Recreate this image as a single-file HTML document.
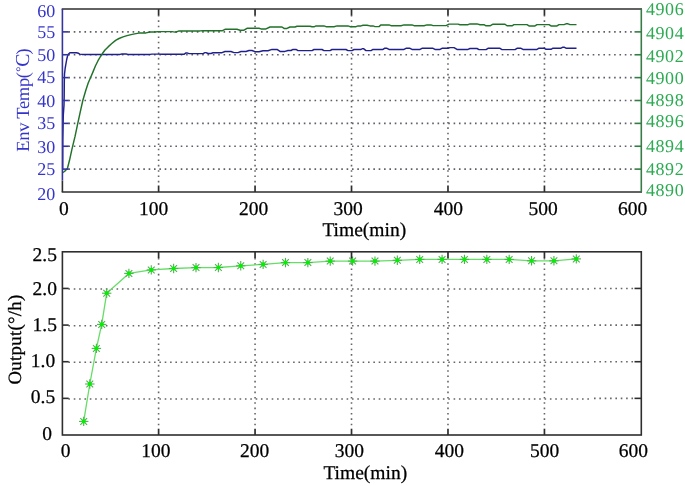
<!DOCTYPE html><html><head><meta charset="utf-8"><style>html,body{margin:0;padding:0;background:#fff;overflow:hidden}svg{display:block}text{font-family:"Liberation Serif","Times New Roman",serif;text-rendering:geometricPrecision}</style></head><body>
<svg width="685" height="486" viewBox="0 0 685 486">
<rect width="685" height="486" fill="#fff"/>
<line x1="158.60" y1="15.00" x2="158.60" y2="186.00" stroke="#666" stroke-width="1.6" stroke-dasharray="1.6 3.75"/>
<line x1="255.06" y1="15.00" x2="255.06" y2="186.00" stroke="#666" stroke-width="1.6" stroke-dasharray="1.6 3.75"/>
<line x1="351.52" y1="15.00" x2="351.52" y2="186.00" stroke="#666" stroke-width="1.6" stroke-dasharray="1.6 3.75"/>
<line x1="447.98" y1="15.00" x2="447.98" y2="186.00" stroke="#666" stroke-width="1.6" stroke-dasharray="1.6 3.75"/>
<line x1="544.44" y1="15.00" x2="544.44" y2="186.00" stroke="#666" stroke-width="1.6" stroke-dasharray="1.6 3.75"/>
<line x1="68.40" y1="169.12" x2="635.30" y2="169.12" stroke="#5e5e6a" stroke-width="1.6" stroke-dasharray="1.6 3.75"/>
<line x1="68.40" y1="146.25" x2="635.30" y2="146.25" stroke="#5e5e6a" stroke-width="1.6" stroke-dasharray="1.6 3.75"/>
<line x1="68.40" y1="123.38" x2="635.30" y2="123.38" stroke="#5e5e6a" stroke-width="1.6" stroke-dasharray="1.6 3.75"/>
<line x1="68.40" y1="100.50" x2="635.30" y2="100.50" stroke="#5e5e6a" stroke-width="1.6" stroke-dasharray="1.6 3.75"/>
<line x1="68.40" y1="77.62" x2="635.30" y2="77.62" stroke="#5e5e6a" stroke-width="1.6" stroke-dasharray="1.6 3.75"/>
<line x1="68.40" y1="54.75" x2="635.30" y2="54.75" stroke="#5e5e6a" stroke-width="1.6" stroke-dasharray="1.6 3.75"/>
<line x1="68.40" y1="31.88" x2="635.30" y2="31.88" stroke="#5e5e6a" stroke-width="1.6" stroke-dasharray="1.6 3.75"/>
<polyline points="62.70,169.50 62.80,140.00 63.30,115.00 64.00,105.00 64.20,95.00 64.30,82.00 64.50,74.00 65.20,68.00 65.80,64.70 66.60,60.00 67.40,56.50 68.50,54.00 69.90,52.80 72.00,52.60 76.50,52.80 78.50,53.30 79.80,54.10 82.00,54.40 84.00,54.40 120.00,54.40 122.00,54.00 126.00,54.00 128.00,54.40 150.00,54.40 152.00,54.10 160.00,54.10 162.00,54.30 184.00,54.30 186.00,52.90 187.00,52.90 189.00,53.60 203.00,53.60 205.00,52.60 206.00,52.60 208.00,53.50 211.00,53.50 213.00,52.80 214.00,52.80 216.00,52.70 222.00,52.70 225.00,51.50 231.00,51.50 234.00,52.60 238.00,52.60 241.00,51.50 246.00,51.50 249.00,50.50 252.00,50.50 255.00,51.70 259.00,51.70 263.00,50.70 268.00,50.70 272.00,49.40 277.00,49.40 280.00,51.40 285.00,51.40 288.00,50.50 291.00,50.50 293.00,49.40 296.00,49.40 298.00,50.60 312.00,50.60 314.00,49.50 322.00,49.50 324.00,50.60 330.00,50.60 332.00,49.50 346.00,49.50 348.00,50.60 352.00,50.60 354.00,49.50 361.00,49.50 362.50,48.60 363.50,48.60 366.00,50.60 371.00,50.60 373.00,49.40 383.00,49.40 384.50,48.30 387.00,48.30 389.00,49.40 404.00,49.40 406.00,48.30 410.00,48.30 412.00,49.40 420.00,49.40 422.00,48.30 433.00,48.30 435.00,49.40 440.00,49.40 442.00,48.30 448.00,48.30 450.00,47.60 454.00,47.60 457.00,49.40 468.00,49.40 470.00,48.50 477.00,48.50 479.00,49.60 486.00,49.60 488.00,48.30 500.00,48.30 502.00,49.60 515.00,49.60 517.00,48.30 521.00,48.30 523.00,49.40 537.00,49.40 539.00,48.20 544.00,48.20 546.00,49.30 551.00,49.30 553.00,48.20 561.00,48.20 562.50,47.30 564.50,47.30 566.00,48.20 576.50,48.20" fill="none" stroke="#20208c" stroke-width="1.45" stroke-linejoin="round" stroke-linecap="butt"/>
<polyline points="62.60,172.70 64.50,171.50 67.40,168.50 69.40,160.80 71.90,149.40 75.10,136.20 77.50,124.70 80.00,113.20 82.80,100.50 85.90,90.00 88.20,83.00 90.60,77.50 93.00,71.90 95.40,66.00 98.00,60.70 100.50,56.50 102.60,53.30 105.00,50.00 108.10,46.90 111.50,43.80 115.60,40.40 119.00,38.50 123.00,36.90 127.00,35.60 132.20,34.40 136.00,33.60 140.00,32.90 146.00,32.90 150.00,32.00 155.00,32.00 158.00,31.60 172.00,31.60 175.00,32.10 176.00,32.10 179.00,30.90 200.00,30.90 203.00,30.80 222.00,30.80 225.00,29.30 237.00,29.30 240.00,30.20 244.00,30.20 247.00,28.30 259.00,28.30 261.00,28.90 266.00,28.90 270.00,27.00 282.00,27.00 284.00,28.40 287.00,28.40 290.00,27.00 295.00,27.00 297.00,26.30 310.00,26.30 312.00,26.80 314.00,26.80 316.00,25.90 324.00,25.90 326.00,26.70 334.00,26.70 337.00,25.90 348.00,25.90 350.00,26.70 356.00,26.70 358.00,25.90 361.00,25.90 363.00,25.30 367.00,25.30 370.00,25.90 373.00,25.90 375.00,26.60 379.00,26.60 381.00,24.90 389.00,24.90 391.00,25.70 401.00,25.70 404.00,24.90 412.00,24.90 414.00,25.70 424.00,25.70 427.00,24.90 431.00,24.90 433.00,25.60 446.00,25.60 449.00,24.10 458.00,24.10 460.00,24.70 468.00,24.70 470.00,23.90 477.00,23.90 480.00,24.70 484.00,24.70 486.00,25.80 490.00,25.80 493.00,24.20 505.00,24.20 507.00,25.80 512.00,25.80 514.00,24.60 527.00,24.60 529.00,25.90 535.00,25.90 537.00,24.60 549.00,24.60 551.00,25.90 557.00,25.90 559.00,24.60 564.00,24.60 566.00,23.80 568.00,23.80 570.00,24.60 576.50,24.60" fill="none" stroke="#207228" stroke-width="1.45" stroke-linejoin="round" stroke-linecap="butt"/>
<line x1="158.60" y1="9.0" x2="158.60" y2="15.3" stroke="#2e2e2e" stroke-width="1.7"/>
<line x1="158.60" y1="192.0" x2="158.60" y2="185.5" stroke="#2e2e2e" stroke-width="1.7"/>
<line x1="255.06" y1="9.0" x2="255.06" y2="15.3" stroke="#2e2e2e" stroke-width="1.7"/>
<line x1="255.06" y1="192.0" x2="255.06" y2="185.5" stroke="#2e2e2e" stroke-width="1.7"/>
<line x1="351.52" y1="9.0" x2="351.52" y2="15.3" stroke="#2e2e2e" stroke-width="1.7"/>
<line x1="351.52" y1="192.0" x2="351.52" y2="185.5" stroke="#2e2e2e" stroke-width="1.7"/>
<line x1="447.98" y1="9.0" x2="447.98" y2="15.3" stroke="#2e2e2e" stroke-width="1.7"/>
<line x1="447.98" y1="192.0" x2="447.98" y2="185.5" stroke="#2e2e2e" stroke-width="1.7"/>
<line x1="544.44" y1="9.0" x2="544.44" y2="15.3" stroke="#2e2e2e" stroke-width="1.7"/>
<line x1="544.44" y1="192.0" x2="544.44" y2="185.5" stroke="#2e2e2e" stroke-width="1.7"/>
<line x1="62.4" y1="169.12" x2="68.7" y2="169.12" stroke="#34349c" stroke-width="1.6"/>
<line x1="641.3" y1="169.12" x2="634.5" y2="169.12" stroke="#367c46" stroke-width="1.6"/>
<line x1="62.4" y1="146.25" x2="68.7" y2="146.25" stroke="#34349c" stroke-width="1.6"/>
<line x1="641.3" y1="146.25" x2="634.5" y2="146.25" stroke="#367c46" stroke-width="1.6"/>
<line x1="62.4" y1="123.38" x2="68.7" y2="123.38" stroke="#34349c" stroke-width="1.6"/>
<line x1="641.3" y1="123.38" x2="634.5" y2="123.38" stroke="#367c46" stroke-width="1.6"/>
<line x1="62.4" y1="100.50" x2="68.7" y2="100.50" stroke="#34349c" stroke-width="1.6"/>
<line x1="641.3" y1="100.50" x2="634.5" y2="100.50" stroke="#367c46" stroke-width="1.6"/>
<line x1="62.4" y1="77.62" x2="68.7" y2="77.62" stroke="#34349c" stroke-width="1.6"/>
<line x1="641.3" y1="77.62" x2="634.5" y2="77.62" stroke="#367c46" stroke-width="1.6"/>
<line x1="62.4" y1="54.75" x2="68.7" y2="54.75" stroke="#34349c" stroke-width="1.6"/>
<line x1="641.3" y1="54.75" x2="634.5" y2="54.75" stroke="#367c46" stroke-width="1.6"/>
<line x1="62.4" y1="31.88" x2="68.7" y2="31.88" stroke="#34349c" stroke-width="1.6"/>
<line x1="641.3" y1="31.88" x2="634.5" y2="31.88" stroke="#367c46" stroke-width="1.6"/>
<line x1="61.699999999999996" y1="9.0" x2="642.0" y2="9.0" stroke="#2e2e2e" stroke-width="1.6"/>
<line x1="61.699999999999996" y1="192.0" x2="642.0" y2="192.0" stroke="#2e2e2e" stroke-width="1.6"/>
<line x1="62.4" y1="192.0" x2="62.4" y2="180.5" stroke="#2e2e2e" stroke-width="1.6"/>
<line x1="62.4" y1="180.5" x2="62.4" y2="9.0" stroke="#34349c" stroke-width="1.6"/>
<line x1="641.3" y1="9.0" x2="641.3" y2="192.0" stroke="#367c46" stroke-width="1.6"/>
<text x="55.2" y="16.90" font-size="18" fill="#3434cc" text-anchor="end">60</text>
<text x="55.2" y="37.90" font-size="18" fill="#3434cc" text-anchor="end">55</text>
<text x="55.2" y="60.75" font-size="18" fill="#3434cc" text-anchor="end">50</text>
<text x="55.2" y="82.70" font-size="18" fill="#3434cc" text-anchor="end">45</text>
<text x="55.2" y="107.00" font-size="18" fill="#3434cc" text-anchor="end">40</text>
<text x="55.2" y="128.80" font-size="18" fill="#3434cc" text-anchor="end">35</text>
<text x="55.2" y="152.80" font-size="18" fill="#3434cc" text-anchor="end">30</text>
<text x="55.2" y="174.50" font-size="18" fill="#3434cc" text-anchor="end">25</text>
<text x="55.2" y="199.90" font-size="18" fill="#3434cc" text-anchor="end">20</text>
<text x="645.9" y="14.90" font-size="18" letter-spacing="0.6" fill="#2caa52">4906</text>
<text x="645.9" y="38.60" font-size="18" letter-spacing="0.6" fill="#2caa52">4904</text>
<text x="645.9" y="61.70" font-size="18" letter-spacing="0.6" fill="#2caa52">4902</text>
<text x="645.9" y="84.40" font-size="18" letter-spacing="0.6" fill="#2caa52">4900</text>
<text x="645.9" y="106.10" font-size="18" letter-spacing="0.6" fill="#2caa52">4898</text>
<text x="645.9" y="127.40" font-size="18" letter-spacing="0.6" fill="#2caa52">4896</text>
<text x="645.9" y="152.00" font-size="18" letter-spacing="0.6" fill="#2caa52">4894</text>
<text x="645.9" y="174.70" font-size="18" letter-spacing="0.6" fill="#2caa52">4892</text>
<text x="645.9" y="195.50" font-size="18" letter-spacing="0.6" fill="#2caa52">4890</text>
<text transform="translate(29.0,151.7) rotate(-90)" font-size="18.5" letter-spacing="-0.3" fill="#3434cc">Env Temp(<tspan font-size="13" dx="0.6" dy="-4.2">°</tspan><tspan font-size="19.8" dx="0.1" dy="4.2" letter-spacing="-0.9">C</tspan>)</text>
<text x="63.8" y="215.3" font-size="19.5" fill="#000" stroke="#000" stroke-width="0.25" text-anchor="middle">0</text>
<text x="153.6" y="215.3" font-size="19.5" fill="#000" stroke="#000" stroke-width="0.25" text-anchor="middle">100</text>
<text x="253.5" y="215.3" font-size="19.5" fill="#000" stroke="#000" stroke-width="0.25" text-anchor="middle">200</text>
<text x="348.2" y="215.3" font-size="19.5" fill="#000" stroke="#000" stroke-width="0.25" text-anchor="middle">300</text>
<text x="448.3" y="215.3" font-size="19.5" fill="#000" stroke="#000" stroke-width="0.25" text-anchor="middle">400</text>
<text x="543" y="215.3" font-size="19.5" fill="#000" stroke="#000" stroke-width="0.25" text-anchor="middle">500</text>
<text x="632.5" y="215.3" font-size="19.5" fill="#000" stroke="#000" stroke-width="0.25" text-anchor="middle">600</text>
<text x="364.3" y="235.7" font-size="19.5" fill="#000" stroke="#000" stroke-width="0.25" text-anchor="middle">Time(min)</text>
<line x1="158.60" y1="257.80" x2="158.60" y2="429.00" stroke="#666" stroke-width="1.6" stroke-dasharray="1.6 3.75"/>
<line x1="255.06" y1="257.80" x2="255.06" y2="429.00" stroke="#666" stroke-width="1.6" stroke-dasharray="1.6 3.75"/>
<line x1="351.52" y1="257.80" x2="351.52" y2="429.00" stroke="#666" stroke-width="1.6" stroke-dasharray="1.6 3.75"/>
<line x1="447.98" y1="257.80" x2="447.98" y2="429.00" stroke="#666" stroke-width="1.6" stroke-dasharray="1.6 3.75"/>
<line x1="544.44" y1="257.80" x2="544.44" y2="429.00" stroke="#666" stroke-width="1.6" stroke-dasharray="1.6 3.75"/>
<line x1="68.40" y1="398.96" x2="592.50" y2="398.96" stroke="#666" stroke-width="1.6" stroke-dasharray="1.6 3.75"/>
<line x1="594.00" y1="398.36" x2="635.30" y2="398.36" stroke="#666" stroke-width="1.6" stroke-dasharray="1.6 3.75"/>
<line x1="68.40" y1="362.32" x2="592.50" y2="362.32" stroke="#666" stroke-width="1.6" stroke-dasharray="1.6 3.75"/>
<line x1="594.00" y1="361.72" x2="635.30" y2="361.72" stroke="#666" stroke-width="1.6" stroke-dasharray="1.6 3.75"/>
<line x1="68.40" y1="325.68" x2="592.50" y2="325.68" stroke="#666" stroke-width="1.6" stroke-dasharray="1.6 3.75"/>
<line x1="594.00" y1="325.08" x2="635.30" y2="325.08" stroke="#666" stroke-width="1.6" stroke-dasharray="1.6 3.75"/>
<line x1="68.40" y1="289.04" x2="592.50" y2="289.04" stroke="#666" stroke-width="1.6" stroke-dasharray="1.6 3.75"/>
<line x1="594.00" y1="288.44" x2="635.30" y2="288.44" stroke="#666" stroke-width="1.6" stroke-dasharray="1.6 3.75"/>
<polyline points="83.70,421.40 89.80,384.00 96.40,348.40 101.70,324.40 106.70,293.20 128.90,273.40 151.27,269.90 173.64,268.50 196.01,267.60 218.38,267.50 240.75,265.80 263.12,264.40 285.49,262.60 307.86,262.60 330.23,261.10 352.60,261.10 374.97,261.10 397.34,260.30 419.71,259.40 442.08,259.40 464.45,259.40 486.82,259.40 509.19,259.40 531.56,260.80 553.93,260.80 576.30,258.90" fill="none" stroke="#66dd66" stroke-width="1.3" stroke-linejoin="round" stroke-linecap="butt"/>
<g stroke="#4fb04f" stroke-width="1.1"><line x1="79.00" y1="421.40" x2="88.40" y2="421.40"/><line x1="83.70" y1="416.70" x2="83.70" y2="426.10"/><line x1="80.32" y1="418.02" x2="87.08" y2="424.78"/><line x1="80.32" y1="424.78" x2="87.08" y2="418.02"/></g>
<circle cx="83.70" cy="421.40" r="2.1" fill="#00f000"/>
<g stroke="#4fb04f" stroke-width="1.1"><line x1="85.10" y1="384.00" x2="94.50" y2="384.00"/><line x1="89.80" y1="379.30" x2="89.80" y2="388.70"/><line x1="86.42" y1="380.62" x2="93.18" y2="387.38"/><line x1="86.42" y1="387.38" x2="93.18" y2="380.62"/></g>
<circle cx="89.80" cy="384.00" r="2.1" fill="#00f000"/>
<g stroke="#4fb04f" stroke-width="1.1"><line x1="91.70" y1="348.40" x2="101.10" y2="348.40"/><line x1="96.40" y1="343.70" x2="96.40" y2="353.10"/><line x1="93.02" y1="345.02" x2="99.78" y2="351.78"/><line x1="93.02" y1="351.78" x2="99.78" y2="345.02"/></g>
<circle cx="96.40" cy="348.40" r="2.1" fill="#00f000"/>
<g stroke="#4fb04f" stroke-width="1.1"><line x1="97.00" y1="324.40" x2="106.40" y2="324.40"/><line x1="101.70" y1="319.70" x2="101.70" y2="329.10"/><line x1="98.32" y1="321.02" x2="105.08" y2="327.78"/><line x1="98.32" y1="327.78" x2="105.08" y2="321.02"/></g>
<circle cx="101.70" cy="324.40" r="2.1" fill="#00f000"/>
<g stroke="#4fb04f" stroke-width="1.1"><line x1="102.00" y1="293.20" x2="111.40" y2="293.20"/><line x1="106.70" y1="288.50" x2="106.70" y2="297.90"/><line x1="103.32" y1="289.82" x2="110.08" y2="296.58"/><line x1="103.32" y1="296.58" x2="110.08" y2="289.82"/></g>
<circle cx="106.70" cy="293.20" r="2.1" fill="#00f000"/>
<g stroke="#4fb04f" stroke-width="1.1"><line x1="124.20" y1="273.40" x2="133.60" y2="273.40"/><line x1="128.90" y1="268.70" x2="128.90" y2="278.10"/><line x1="125.52" y1="270.02" x2="132.28" y2="276.78"/><line x1="125.52" y1="276.78" x2="132.28" y2="270.02"/></g>
<circle cx="128.90" cy="273.40" r="2.1" fill="#00f000"/>
<g stroke="#4fb04f" stroke-width="1.1"><line x1="146.57" y1="269.90" x2="155.97" y2="269.90"/><line x1="151.27" y1="265.20" x2="151.27" y2="274.60"/><line x1="147.89" y1="266.52" x2="154.65" y2="273.28"/><line x1="147.89" y1="273.28" x2="154.65" y2="266.52"/></g>
<circle cx="151.27" cy="269.90" r="2.1" fill="#00f000"/>
<g stroke="#4fb04f" stroke-width="1.1"><line x1="168.94" y1="268.50" x2="178.34" y2="268.50"/><line x1="173.64" y1="263.80" x2="173.64" y2="273.20"/><line x1="170.26" y1="265.12" x2="177.02" y2="271.88"/><line x1="170.26" y1="271.88" x2="177.02" y2="265.12"/></g>
<circle cx="173.64" cy="268.50" r="2.1" fill="#00f000"/>
<g stroke="#4fb04f" stroke-width="1.1"><line x1="191.31" y1="267.60" x2="200.71" y2="267.60"/><line x1="196.01" y1="262.90" x2="196.01" y2="272.30"/><line x1="192.63" y1="264.22" x2="199.39" y2="270.98"/><line x1="192.63" y1="270.98" x2="199.39" y2="264.22"/></g>
<circle cx="196.01" cy="267.60" r="2.1" fill="#00f000"/>
<g stroke="#4fb04f" stroke-width="1.1"><line x1="213.68" y1="267.50" x2="223.08" y2="267.50"/><line x1="218.38" y1="262.80" x2="218.38" y2="272.20"/><line x1="215.00" y1="264.12" x2="221.76" y2="270.88"/><line x1="215.00" y1="270.88" x2="221.76" y2="264.12"/></g>
<circle cx="218.38" cy="267.50" r="2.1" fill="#00f000"/>
<g stroke="#4fb04f" stroke-width="1.1"><line x1="236.05" y1="265.80" x2="245.45" y2="265.80"/><line x1="240.75" y1="261.10" x2="240.75" y2="270.50"/><line x1="237.37" y1="262.42" x2="244.13" y2="269.18"/><line x1="237.37" y1="269.18" x2="244.13" y2="262.42"/></g>
<circle cx="240.75" cy="265.80" r="2.1" fill="#00f000"/>
<g stroke="#4fb04f" stroke-width="1.1"><line x1="258.42" y1="264.40" x2="267.82" y2="264.40"/><line x1="263.12" y1="259.70" x2="263.12" y2="269.10"/><line x1="259.74" y1="261.02" x2="266.50" y2="267.78"/><line x1="259.74" y1="267.78" x2="266.50" y2="261.02"/></g>
<circle cx="263.12" cy="264.40" r="2.1" fill="#00f000"/>
<g stroke="#4fb04f" stroke-width="1.1"><line x1="280.79" y1="262.60" x2="290.19" y2="262.60"/><line x1="285.49" y1="257.90" x2="285.49" y2="267.30"/><line x1="282.11" y1="259.22" x2="288.87" y2="265.98"/><line x1="282.11" y1="265.98" x2="288.87" y2="259.22"/></g>
<circle cx="285.49" cy="262.60" r="2.1" fill="#00f000"/>
<g stroke="#4fb04f" stroke-width="1.1"><line x1="303.16" y1="262.60" x2="312.56" y2="262.60"/><line x1="307.86" y1="257.90" x2="307.86" y2="267.30"/><line x1="304.48" y1="259.22" x2="311.24" y2="265.98"/><line x1="304.48" y1="265.98" x2="311.24" y2="259.22"/></g>
<circle cx="307.86" cy="262.60" r="2.1" fill="#00f000"/>
<g stroke="#4fb04f" stroke-width="1.1"><line x1="325.53" y1="261.10" x2="334.93" y2="261.10"/><line x1="330.23" y1="256.40" x2="330.23" y2="265.80"/><line x1="326.85" y1="257.72" x2="333.61" y2="264.48"/><line x1="326.85" y1="264.48" x2="333.61" y2="257.72"/></g>
<circle cx="330.23" cy="261.10" r="2.1" fill="#00f000"/>
<g stroke="#4fb04f" stroke-width="1.1"><line x1="347.90" y1="261.10" x2="357.30" y2="261.10"/><line x1="352.60" y1="256.40" x2="352.60" y2="265.80"/><line x1="349.22" y1="257.72" x2="355.98" y2="264.48"/><line x1="349.22" y1="264.48" x2="355.98" y2="257.72"/></g>
<circle cx="352.60" cy="261.10" r="2.1" fill="#00f000"/>
<g stroke="#4fb04f" stroke-width="1.1"><line x1="370.27" y1="261.10" x2="379.67" y2="261.10"/><line x1="374.97" y1="256.40" x2="374.97" y2="265.80"/><line x1="371.59" y1="257.72" x2="378.35" y2="264.48"/><line x1="371.59" y1="264.48" x2="378.35" y2="257.72"/></g>
<circle cx="374.97" cy="261.10" r="2.1" fill="#00f000"/>
<g stroke="#4fb04f" stroke-width="1.1"><line x1="392.64" y1="260.30" x2="402.04" y2="260.30"/><line x1="397.34" y1="255.60" x2="397.34" y2="265.00"/><line x1="393.96" y1="256.92" x2="400.72" y2="263.68"/><line x1="393.96" y1="263.68" x2="400.72" y2="256.92"/></g>
<circle cx="397.34" cy="260.30" r="2.1" fill="#00f000"/>
<g stroke="#4fb04f" stroke-width="1.1"><line x1="415.01" y1="259.40" x2="424.41" y2="259.40"/><line x1="419.71" y1="254.70" x2="419.71" y2="264.10"/><line x1="416.33" y1="256.02" x2="423.09" y2="262.78"/><line x1="416.33" y1="262.78" x2="423.09" y2="256.02"/></g>
<circle cx="419.71" cy="259.40" r="2.1" fill="#00f000"/>
<g stroke="#4fb04f" stroke-width="1.1"><line x1="437.38" y1="259.40" x2="446.78" y2="259.40"/><line x1="442.08" y1="254.70" x2="442.08" y2="264.10"/><line x1="438.70" y1="256.02" x2="445.46" y2="262.78"/><line x1="438.70" y1="262.78" x2="445.46" y2="256.02"/></g>
<circle cx="442.08" cy="259.40" r="2.1" fill="#00f000"/>
<g stroke="#4fb04f" stroke-width="1.1"><line x1="459.75" y1="259.40" x2="469.15" y2="259.40"/><line x1="464.45" y1="254.70" x2="464.45" y2="264.10"/><line x1="461.07" y1="256.02" x2="467.83" y2="262.78"/><line x1="461.07" y1="262.78" x2="467.83" y2="256.02"/></g>
<circle cx="464.45" cy="259.40" r="2.1" fill="#00f000"/>
<g stroke="#4fb04f" stroke-width="1.1"><line x1="482.12" y1="259.40" x2="491.52" y2="259.40"/><line x1="486.82" y1="254.70" x2="486.82" y2="264.10"/><line x1="483.44" y1="256.02" x2="490.20" y2="262.78"/><line x1="483.44" y1="262.78" x2="490.20" y2="256.02"/></g>
<circle cx="486.82" cy="259.40" r="2.1" fill="#00f000"/>
<g stroke="#4fb04f" stroke-width="1.1"><line x1="504.49" y1="259.40" x2="513.89" y2="259.40"/><line x1="509.19" y1="254.70" x2="509.19" y2="264.10"/><line x1="505.81" y1="256.02" x2="512.57" y2="262.78"/><line x1="505.81" y1="262.78" x2="512.57" y2="256.02"/></g>
<circle cx="509.19" cy="259.40" r="2.1" fill="#00f000"/>
<g stroke="#4fb04f" stroke-width="1.1"><line x1="526.86" y1="260.80" x2="536.26" y2="260.80"/><line x1="531.56" y1="256.10" x2="531.56" y2="265.50"/><line x1="528.18" y1="257.42" x2="534.94" y2="264.18"/><line x1="528.18" y1="264.18" x2="534.94" y2="257.42"/></g>
<circle cx="531.56" cy="260.80" r="2.1" fill="#00f000"/>
<g stroke="#4fb04f" stroke-width="1.1"><line x1="549.23" y1="260.80" x2="558.63" y2="260.80"/><line x1="553.93" y1="256.10" x2="553.93" y2="265.50"/><line x1="550.55" y1="257.42" x2="557.31" y2="264.18"/><line x1="550.55" y1="264.18" x2="557.31" y2="257.42"/></g>
<circle cx="553.93" cy="260.80" r="2.1" fill="#00f000"/>
<g stroke="#4fb04f" stroke-width="1.1"><line x1="571.60" y1="258.90" x2="581.00" y2="258.90"/><line x1="576.30" y1="254.20" x2="576.30" y2="263.60"/><line x1="572.92" y1="255.52" x2="579.68" y2="262.28"/><line x1="572.92" y1="262.28" x2="579.68" y2="255.52"/></g>
<circle cx="576.30" cy="258.90" r="2.1" fill="#00f000"/>
<line x1="158.60" y1="251.8" x2="158.60" y2="258.1" stroke="#2e2e2e" stroke-width="1.7"/>
<line x1="158.60" y1="435.0" x2="158.60" y2="428.7" stroke="#2e2e2e" stroke-width="1.7"/>
<line x1="255.06" y1="251.8" x2="255.06" y2="258.1" stroke="#2e2e2e" stroke-width="1.7"/>
<line x1="255.06" y1="435.0" x2="255.06" y2="428.7" stroke="#2e2e2e" stroke-width="1.7"/>
<line x1="351.52" y1="251.8" x2="351.52" y2="258.1" stroke="#2e2e2e" stroke-width="1.7"/>
<line x1="351.52" y1="435.0" x2="351.52" y2="428.7" stroke="#2e2e2e" stroke-width="1.7"/>
<line x1="447.98" y1="251.8" x2="447.98" y2="258.1" stroke="#2e2e2e" stroke-width="1.7"/>
<line x1="447.98" y1="435.0" x2="447.98" y2="428.7" stroke="#2e2e2e" stroke-width="1.7"/>
<line x1="544.44" y1="251.8" x2="544.44" y2="258.1" stroke="#2e2e2e" stroke-width="1.7"/>
<line x1="544.44" y1="435.0" x2="544.44" y2="428.7" stroke="#2e2e2e" stroke-width="1.7"/>
<line x1="62.4" y1="398.36" x2="68.7" y2="398.36" stroke="#2e2e2e" stroke-width="1.6"/>
<line x1="641.3" y1="398.36" x2="634.5" y2="398.36" stroke="#2e2e2e" stroke-width="1.6"/>
<line x1="62.4" y1="361.72" x2="68.7" y2="361.72" stroke="#2e2e2e" stroke-width="1.6"/>
<line x1="641.3" y1="361.72" x2="634.5" y2="361.72" stroke="#2e2e2e" stroke-width="1.6"/>
<line x1="62.4" y1="325.08" x2="68.7" y2="325.08" stroke="#2e2e2e" stroke-width="1.6"/>
<line x1="641.3" y1="325.08" x2="634.5" y2="325.08" stroke="#2e2e2e" stroke-width="1.6"/>
<line x1="62.4" y1="288.44" x2="68.7" y2="288.44" stroke="#2e2e2e" stroke-width="1.6"/>
<line x1="641.3" y1="288.44" x2="634.5" y2="288.44" stroke="#2e2e2e" stroke-width="1.6"/>
<rect x="62.4" y="251.8" width="578.90" height="183.20" fill="none" stroke="#2e2e2e" stroke-width="1.6"/>
<text x="52.0" y="440.4" font-size="19.5" fill="#000" stroke="#000" stroke-width="0.25" text-anchor="end">0</text>
<text x="55.2" y="403" font-size="19.5" fill="#000" stroke="#000" stroke-width="0.25" text-anchor="end">0.5</text>
<text x="55.2" y="367" font-size="19.5" fill="#000" stroke="#000" stroke-width="0.25" text-anchor="end">1.0</text>
<text x="56.9" y="330.5" font-size="19.5" fill="#000" stroke="#000" stroke-width="0.25" text-anchor="end">1.5</text>
<text x="56.9" y="295.1" font-size="19.5" fill="#000" stroke="#000" stroke-width="0.25" text-anchor="end">2.0</text>
<text x="56.9" y="261.2" font-size="19.5" fill="#000" stroke="#000" stroke-width="0.25" text-anchor="end">2.5</text>
<text transform="translate(20.9,384.5) rotate(-90)" font-size="18.8" letter-spacing="0.3" fill="#000" stroke="#000" stroke-width="0.25">Output(°/h)</text>
<text x="65.5" y="456.7" font-size="19.5" fill="#000" stroke="#000" stroke-width="0.25" text-anchor="middle">0</text>
<text x="155.9" y="456.7" font-size="19.5" fill="#000" stroke="#000" stroke-width="0.25" text-anchor="middle">100</text>
<text x="254.5" y="456.7" font-size="19.5" fill="#000" stroke="#000" stroke-width="0.25" text-anchor="middle">200</text>
<text x="349.4" y="456.7" font-size="19.5" fill="#000" stroke="#000" stroke-width="0.25" text-anchor="middle">300</text>
<text x="449.4" y="456.7" font-size="19.5" fill="#000" stroke="#000" stroke-width="0.25" text-anchor="middle">400</text>
<text x="544.5" y="456.7" font-size="19.5" fill="#000" stroke="#000" stroke-width="0.25" text-anchor="middle">500</text>
<text x="633.3" y="456.7" font-size="19.5" fill="#000" stroke="#000" stroke-width="0.25" text-anchor="middle">600</text>
<text x="365.3" y="479.3" font-size="19.5" fill="#000" stroke="#000" stroke-width="0.25" text-anchor="middle">Time(min)</text>
</svg></body></html>
